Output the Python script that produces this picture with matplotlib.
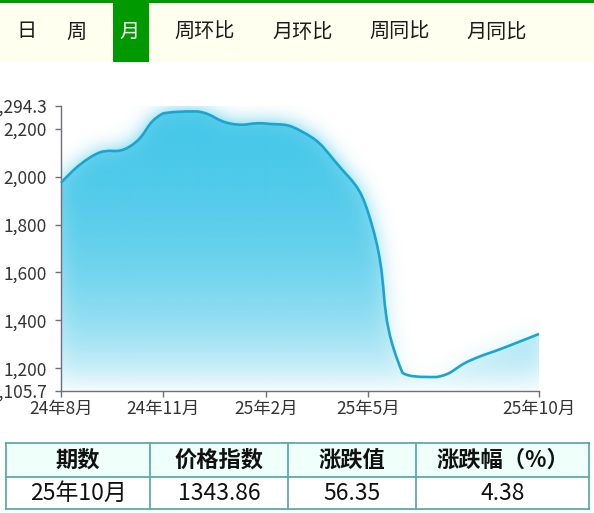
import numpy as np
import matplotlib
matplotlib.use("Agg")
import matplotlib.pyplot as plt
from matplotlib.path import Path
from matplotlib.patches import PathPatch, Rectangle

plt.rcParams["font.family"] = ["Noto Sans CJK SC", "DejaVu Sans"]

# ---- data -------------------------------------------------------------
tabs = ["日", "周", "月", "周环比", "月环比", "周同比", "月同比"]
active_tab = "月"

months = ["24年8月", "24年9月", "24年10月", "24年11月", "24年12月",
          "25年1月", "25年2月", "25年3月", "25年4月", "25年5月",
          "25年6月", "25年7月", "25年8月", "25年9月", "25年10月"]
price_index = [1973, 2092, 2124, 2264, 2271.6, 2220, 2221, 2192, 2068, 1848,
               1182, 1163.9, 1234, 1287.51, 1343.86]
tick_months = ["24年8月", "24年11月", "25年2月", "25年5月", "25年10月"]

y_min, y_max = 1105.7, 2294.3
y_ticks = [1105.7, 1200, 1400, 1600, 1800, 2000, 2200, 2294.3]

table_header = ["期数", "价格指数", "涨跌值", "涨跌幅（%）"]
table_row = ["25年10月", "1343.86", "56.35", "4.38"]

# ---- style ------------------------------------------------------------
W, H = 594, 513
GREEN = "#009a00"
CREAM = "#fffff0"
AREA_RGB = np.array([69, 199, 233]) / 255.0
LINE_COLOR = "#19a5d0"
AXIS_COLOR = "#6e7079"
LABEL_COLOR = "#333333"
SMOOTH = 0.5

fig = plt.figure(figsize=(W / 100, H / 100), dpi=100)
fig.patch.set_facecolor("white")

# page layer in pixel coordinates (origin top-left)
page = fig.add_axes([0, 0, 1, 1], zorder=0)
page.set_xlim(0, W)
page.set_ylim(H, 0)
page.axis("off")

# ---- tab bar ----------------------------------------------------------
page.add_patch(Rectangle((0, 2.7), W, 59.3, facecolor=CREAM, edgecolor="none"))
page.add_patch(Rectangle((0, 0), W, 2.7, facecolor=GREEN, edgecolor="none"))
tab_centers = [26, 76, 130, 205, 303, 400, 497]
for name, cx in zip(tabs, tab_centers):
    active = name == active_tab
    if active:
        page.add_patch(Rectangle((112.7, 2.7), 36.5, 59.3,
                                 facecolor=GREEN, edgecolor="none"))
    page.text(cx, 32, name, ha="center", va="center", fontsize=14.5,
              color="white" if active else "#1a1a1a")

# ---- table ------------------------------------------------------------
col_edges = [6, 150, 288, 416, 589]
row_edges = [443, 477, 509]
page.add_patch(Rectangle((col_edges[0], row_edges[0]),
                         col_edges[-1] - col_edges[0], row_edges[1] - row_edges[0],
                         facecolor="#effffa", edgecolor="none"))
border = "#5fa9a9"
for xe in col_edges:
    page.plot([xe, xe], [row_edges[0], row_edges[-1]], color=border, lw=1.3,
              solid_capstyle="projecting")
for ye in row_edges:
    page.plot([col_edges[0], col_edges[-1]], [ye, ye], color=border, lw=1.3,
              solid_capstyle="projecting")
for i in range(len(table_header)):
    cx = (col_edges[i] + col_edges[i + 1]) / 2
    page.text(cx, (row_edges[0] + row_edges[1]) / 2, table_header[i],
              ha="center", va="center", fontsize=16, fontweight="bold",
              color="#111111")
    page.text(cx, (row_edges[1] + row_edges[2]) / 2, table_row[i],
              ha="center", va="center", fontsize=16.5, color="#111111")

# ---- chart axes -------------------------------------------------------
ax_left, ax_bottom, ax_w, ax_h = 61, H - 391, 478, 285
ax = fig.add_axes([ax_left / W, ax_bottom / H, ax_w / W, ax_h / H], zorder=1)
ax.patch.set_alpha(0)
n = len(price_index)
xs = np.arange(n)
ax.set_xlim(0, n - 1)
ax.set_ylim(y_min, y_max)

for side in ("top", "right"):
    ax.spines[side].set_visible(False)
for side in ("left", "bottom"):
    ax.spines[side].set_color(AXIS_COLOR)
    ax.spines[side].set_linewidth(1.0)

ax.set_yticks(y_ticks)
ax.set_yticklabels([f"{v:,.1f}" if v % 1 else f"{v:,.0f}" for v in y_ticks])
ax.set_xticks([months.index(m) for m in tick_months])
ax.set_xticklabels(tick_months)
ax.tick_params(axis="both", direction="out", length=4, width=1.0,
               color=AXIS_COLOR, labelcolor=LABEL_COLOR, labelsize=12.5)
ax.tick_params(axis="y", pad=6)
ax.tick_params(axis="x", pad=2.5)

# ---- smoothed curve: bezier through the monthly points, with the control
# points kept inside the bounding box of the data --------------------------
pts = ax.transData.transform(np.column_stack([xs, price_index]))
lo, hi = pts.min(axis=0), pts.max(axis=0)
cp_after = pts.copy()
cp_before = pts.copy()
for i in range(1, n - 1):
    prev, nxt = pts[i - 1], pts[i + 1]
    v = nxt - prev
    d0 = np.hypot(*(pts[i] - prev))
    d1 = np.hypot(*(nxt - pts[i]))
    r = d1 / (d0 + d1) if d0 + d1 > 0 else 0.5
    cp_after[i] = np.clip(pts[i] + v * SMOOTH * r, lo, hi)
    cp_before[i] = np.clip(pts[i] - v * SMOOTH * (1 - r), lo, hi)

verts = [pts[0]]
codes = [Path.MOVETO]
samples = [pts[0][None, :]]
t = np.linspace(0, 1, 60)[1:, None]
for i in range(n - 1):
    p0, p1, p2, p3 = pts[i], cp_after[i], cp_before[i + 1], pts[i + 1]
    verts += [p1, p2, p3]
    codes += [Path.CURVE4] * 3
    samples.append((1 - t) ** 3 * p0 + 3 * (1 - t) ** 2 * t * p1
                   + 3 * (1 - t) * t ** 2 * p2 + t ** 3 * p3)
verts = np.array(verts)
inv = ax.transData.inverted()
curve_data = Path(inv.transform(verts), codes)

base = ax.transData.transform([[n - 1, y_min], [0, y_min]])
area_verts = np.vstack([verts, base, verts[:1]])
area_codes = codes + [Path.LINETO, Path.LINETO, Path.CLOSEPOLY]
area_data = Path(inv.transform(area_verts), area_codes)

# ---- gradient fill and soft glow -------------------------------------
x0d, y0d = ax.transData.transform([0, y_min])
pad = 50
gx = np.arange(-pad, ax_w + pad) + 0.5 + x0d
gy = np.arange(-pad, ax_h + pad) + 0.5 + y0d
GX, GY = np.meshgrid(gx, gy)
poly = Path(np.vstack(samples + [base, samples[0][:1]]), closed=True)
mask = poly.contains_points(np.column_stack([GX.ravel(), GY.ravel()])).reshape(GX.shape)

frac = np.clip((gy - y0d) / ax_h, 0, 1)
fill_alpha = frac ** 0.7
shadow = mask * fill_alpha[:, None]


def gaussian_blur(a, sigma):
    rad = int(3 * sigma)
    k = np.exp(-0.5 * (np.arange(-rad, rad + 1) / sigma) ** 2)
    k /= k.sum()
    out = np.zeros_like(a)
    ap = np.pad(a, ((0, 0), (rad, rad)), mode="edge")
    for j, w in enumerate(k):
        out += w * ap[:, j:j + a.shape[1]]
    out2 = np.zeros_like(out)
    ap = np.pad(out, ((rad, rad), (0, 0)), mode="edge")
    for j, w in enumerate(k):
        out2 += w * ap[j:j + a.shape[0], :]
    return out2


glow = gaussian_blur(shadow.astype(float), 10.0)[pad:-pad, pad:-pad]
glow_img = np.zeros(glow.shape + (4,))
glow_img[..., :3] = AREA_RGB
glow_img[..., 3] = np.clip(glow, 0, 1)
ax.imshow(glow_img, extent=[0, n - 1, y_min, y_max], origin="lower",
          aspect="auto", interpolation="bilinear", zorder=1)

fill_img = np.zeros((ax_h, 1, 4))
fill_img[..., :3] = AREA_RGB
fill_img[:, 0, 3] = fill_alpha[pad:-pad] * 0.85
im = ax.imshow(fill_img, extent=[0, n - 1, y_min, y_max], origin="lower",
               aspect="auto", interpolation="bilinear", zorder=2)
im.set_clip_path(PathPatch(area_data, transform=ax.transData))

ax.add_patch(PathPatch(curve_data, fill=False, edgecolor=LINE_COLOR, lw=1.9,
                       zorder=4, clip_on=False, joinstyle="round",
                       capstyle="butt"))

fig.savefig("out.png", dpi=100)
